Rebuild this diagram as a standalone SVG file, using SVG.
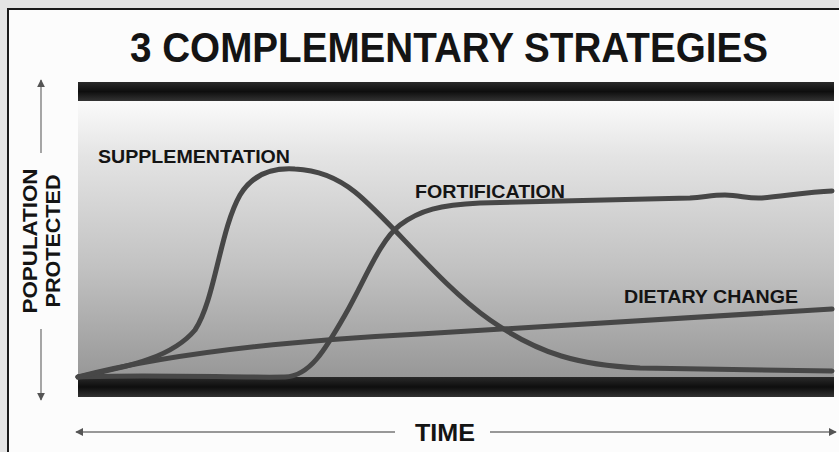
<svg xmlns="http://www.w3.org/2000/svg" width="839" height="452" viewBox="0 0 839 452">
<defs>
<linearGradient id="bg" x1="0" y1="0" x2="0" y2="1">
<stop offset="0" stop-color="#fbfbfb"/>
<stop offset="0.2" stop-color="#e4e4e4"/>
<stop offset="0.6" stop-color="#c2c2c2"/>
<stop offset="1" stop-color="#979797"/>
</linearGradient>
<linearGradient id="bar" x1="0" y1="0" x2="0" y2="1">
<stop offset="0" stop-color="#2a2a2a"/>
<stop offset="0.5" stop-color="#0e0e0e"/>
<stop offset="1" stop-color="#333"/>
</linearGradient>
<marker id="ah" viewBox="0 0 10 10" refX="9" refY="5" markerWidth="8" markerHeight="8" markerUnits="userSpaceOnUse" orient="auto">
<path d="M0,0 L10,5 L0,10 Z" fill="#555"/>
</marker>
</defs>
<style>
.lbl{font-family:"Liberation Sans",Arial,sans-serif;font-weight:bold;fill:#141414}
.ax{stroke:#777;stroke-width:1.3;fill:none}
.crv{stroke:#474747;stroke-width:5;fill:none;stroke-linecap:round;stroke-linejoin:round}
</style>
<rect x="0" y="0" width="839" height="452" fill="#e4e4e4"/>
<rect x="8" y="9" width="840" height="450" fill="#fcfcfc" stroke="#1a1a1a" stroke-width="2"/>
<text class="lbl" x="449" y="62" font-size="42" text-anchor="middle" textLength="638" lengthAdjust="spacingAndGlyphs">3 COMPLEMENTARY STRATEGIES</text>
<g id="chart">
<rect x="78" y="100" width="756" height="278" fill="url(#bg)"/>
<rect x="78" y="82" width="756" height="19" fill="url(#bar)"/>
<rect x="78" y="377" width="756" height="20" fill="url(#bar)"/>
</g>
<g id="axes">
<line class="ax" x1="41" y1="153" x2="41" y2="80" marker-end="url(#ah)"/>
<line class="ax" x1="41" y1="329" x2="41" y2="400" marker-end="url(#ah)"/>
<line class="ax" x1="395" y1="432" x2="76" y2="432" marker-end="url(#ah)"/>
<line class="ax" x1="490" y1="432" x2="836" y2="432" marker-end="url(#ah)"/>
<text class="lbl" transform="translate(37,241) rotate(-90)" font-size="20" text-anchor="middle" textLength="145" lengthAdjust="spacingAndGlyphs">POPULATION</text>
<text class="lbl" transform="translate(60,241) rotate(-90)" font-size="20" text-anchor="middle" textLength="133" lengthAdjust="spacingAndGlyphs">PROTECTED</text>
<text class="lbl" x="445" y="441" font-size="24" text-anchor="middle" textLength="60" lengthAdjust="spacingAndGlyphs">TIME</text>
</g>
<g id="connectors">
<path id="supplementation-curve" class="crv" d="M78,377 C120,368 170,360 195,330 C215,300 220,230 240,195 C255,170 280,168 295,169 C320,170 340,180 355,192 C390,220 440,285 490,320 C540,355 580,365 640,368 L832,371"/>
<path id="fortification-curve" class="crv" d="M78,377 C150,374 240,378 285,377 C310,376 325,350 345,315 C365,280 380,240 400,225 C420,210 440,205 480,203 L690,198 C705,197 712,195 725,195 C740,195 748,199 762,198 C785,196 808,192 832,191"/>
<path id="dietary-curve" class="crv" d="M78,377 Q200,345 420,334 L832,309"/>
</g>
<g id="supplementation">
<text class="lbl" x="98" y="163" font-size="18" textLength="192" lengthAdjust="spacingAndGlyphs">SUPPLEMENTATION</text>
</g>
<g id="fortification">
<text class="lbl" x="415" y="198" font-size="18" textLength="150" lengthAdjust="spacingAndGlyphs">FORTIFICATION</text>
</g>
<g id="dietary-change">
<text class="lbl" x="624" y="303" font-size="18" textLength="174" lengthAdjust="spacingAndGlyphs">DIETARY CHANGE</text>
</g>
</svg>
